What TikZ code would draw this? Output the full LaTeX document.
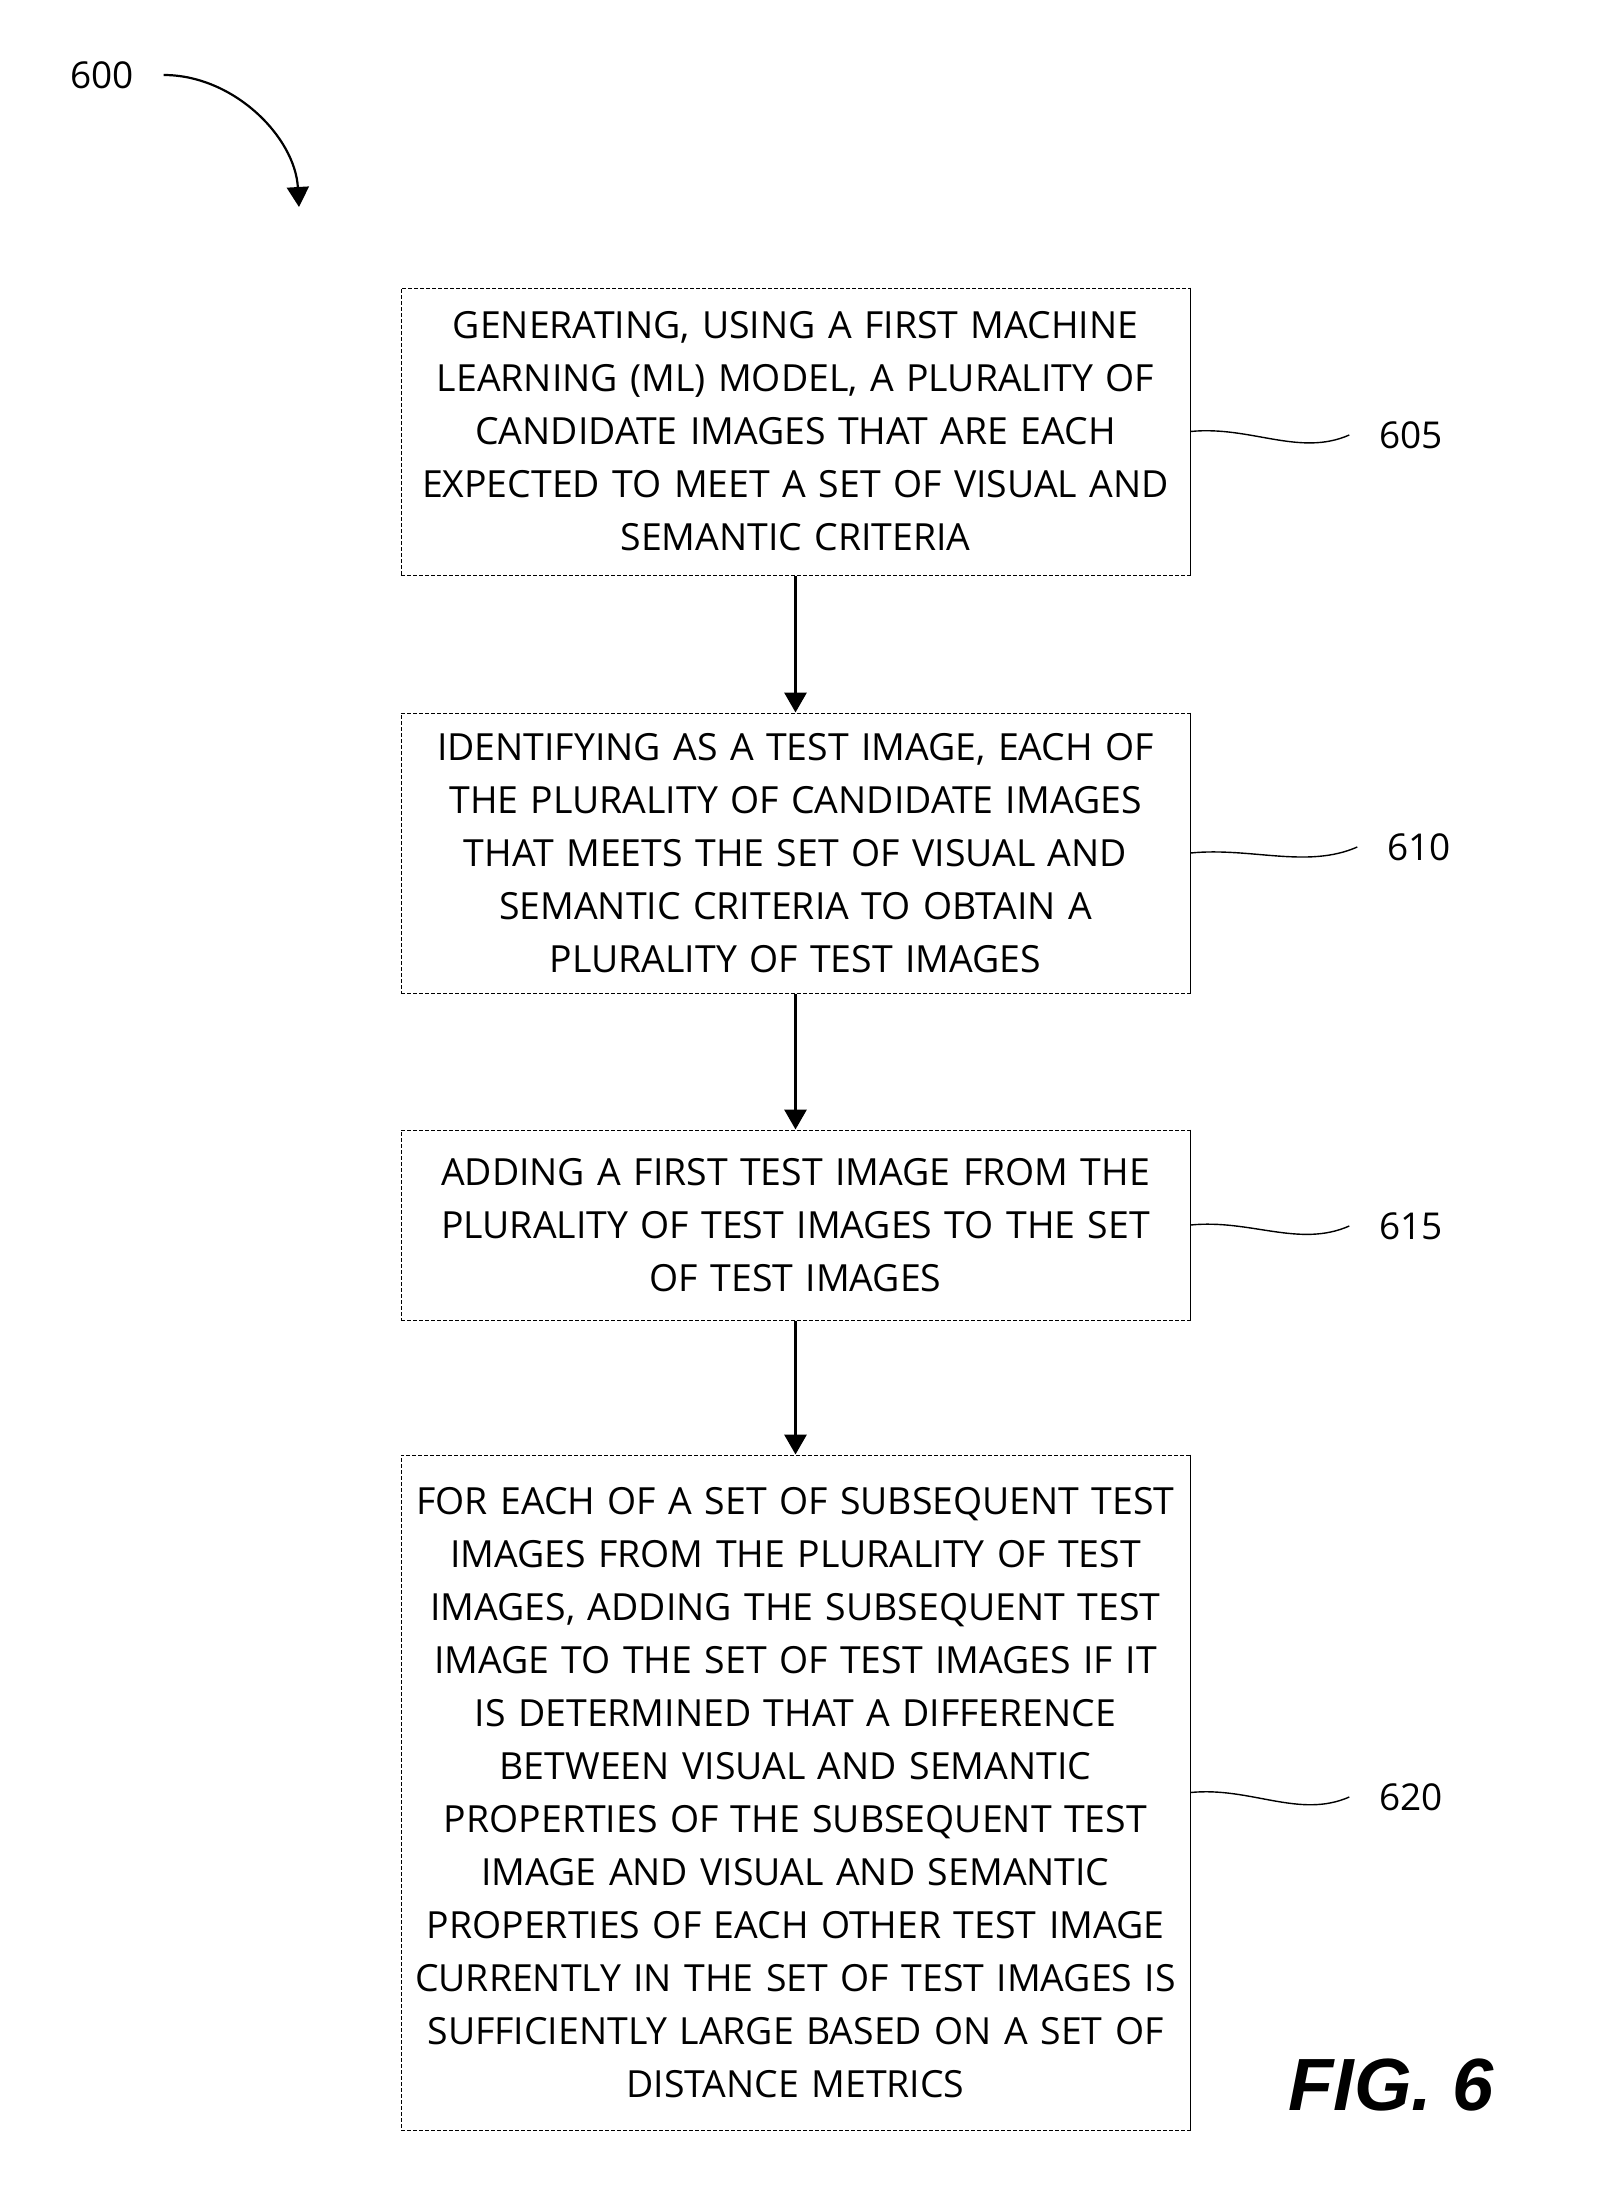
\documentclass[tikz,border=0pt]{standalone}
\usepackage{fontspec}
\setmainfont{Open Sans}
\newfontfamily\figfont{Liberation Sans}
\usepackage{tikz}
\usetikzlibrary{arrows.meta}

\begin{document}
\begin{tikzpicture}[
  x=0.5pt, y=-0.5pt,
  stepbox/.style={rectangle, draw=black, line width=0.5pt, dash pattern=on 2pt off 1pt,
    minimum width=394.5pt, text width=385pt, align=center, inner sep=0pt,
    font=\fontsize{18.7}{26.5}\selectfont},
  arrow/.style={-{Triangle[width=11pt, length=10pt]}, line width=1.6pt},
  reflabel/.style={inner sep=0pt, outer sep=15pt, font=\fontsize{18.5}{22}\selectfont},
  refline/.style={line width=0.7pt}
]
  \useasboundingbox (0,0) rectangle (1599,2201);

  % flow steps
  \node[stepbox, minimum height=143.5pt] (gen) at (795.5,431.5)
    {GENERATING, USING A FIRST MACHINE\\ LEARNING (ML) MODEL, A PLURALITY OF\\ CANDIDATE IMAGES THAT ARE EACH\\ EXPECTED TO MEET A SET OF VISUAL AND\\ SEMANTIC CRITERIA};
  \node[stepbox, minimum height=140pt] (ident) at (795.5,853)
    {IDENTIFYING AS A TEST IMAGE, EACH OF\\ THE PLURALITY OF CANDIDATE IMAGES\\ THAT MEETS THE SET OF VISUAL AND\\ SEMANTIC CRITERIA TO OBTAIN A\\ PLURALITY OF TEST IMAGES};
  \node[stepbox, minimum height=95pt] (addfirst) at (795.5,1225)
    {ADDING A FIRST TEST IMAGE FROM THE\\ PLURALITY OF TEST IMAGES TO THE SET\\ OF TEST IMAGES};
  \node[stepbox, minimum height=337.5pt] (addrest) at (795.5,1792.5)
    {FOR EACH OF A SET OF SUBSEQUENT TEST\\ IMAGES FROM THE PLURALITY OF TEST\\ IMAGES, ADDING THE SUBSEQUENT TEST\\ IMAGE TO THE SET OF TEST IMAGES IF IT\\ IS DETERMINED THAT A DIFFERENCE\\ BETWEEN VISUAL AND SEMANTIC\\ PROPERTIES OF THE SUBSEQUENT TEST\\ IMAGE AND VISUAL AND SEMANTIC\\ PROPERTIES OF EACH OTHER TEST IMAGE\\ CURRENTLY IN THE SET OF TEST IMAGES IS\\ SUFFICIENTLY LARGE BASED ON A SET OF\\ DISTANCE METRICS};

  % solid right edges
  \foreach \b in {gen, ident, addfirst, addrest}
    \draw[line width=0.5pt] (\b.north east) -- (\b.south east);

  \draw[arrow] (gen) -- (ident);
  \draw[arrow] (ident) -- (addfirst);
  \draw[arrow] (addfirst) -- (addrest);

  % reference numerals
  \node[reflabel] (l600) at (102,75) {600};
  \node[reflabel] (l605) at (1411,435) {605};
  \node[reflabel] (l610) at (1419,847) {610};
  \node[reflabel] (l615) at (1411,1226) {615};
  \node[reflabel] (l620) at (1411,1797) {620};

  \coordinate (tip600) at (299,207);
  \draw[line width=1.1pt, -{Triangle[width=11pt, length=10pt]}]
    (l600.east) .. controls +(70,0) and +(-4,-70) .. (tip600);

  \draw[refline] (gen.east) .. controls +(60,-6) and +(-50,22) .. (l605.west);
  \draw[refline] (ident.east) .. controls +(60,-6) and +(-50,22) .. (l610.west);
  \draw[refline] (addfirst.east) .. controls +(60,-6) and +(-50,22) .. (l615.west);
  \draw[refline] (addrest.east) .. controls +(60,-6) and +(-50,22) .. (l620.west);

  \node[inner sep=0pt, font=\figfont\fontsize{37}{40}\selectfont\bfseries\itshape] (fig) at (1391,2085) {FIG. 6};
\end{tikzpicture}
\end{document}
